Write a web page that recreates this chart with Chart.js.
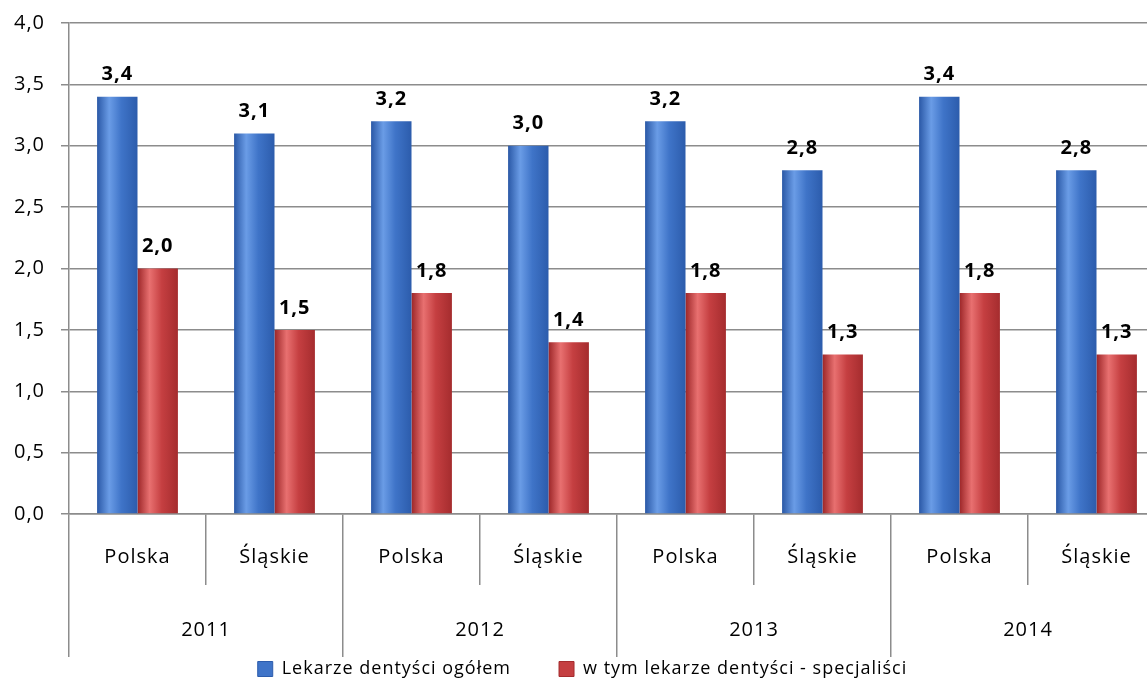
<!DOCTYPE html>
<html>
<head>
<meta charset="utf-8">
<script src="https://cdn.jsdelivr.net/npm/chart.js@4.4.1/dist/chart.umd.min.js"></script>
<style>
  html, body { margin: 0; padding: 0; background: #fff; overflow: hidden; }
  #wrap { width: 1165px; height: 689px; }
</style>
</head>
<body>
<div id="wrap"><canvas id="chart"></canvas></div>
<script>
// dane z wykresu
const regions = ['Polska', 'Śląskie', 'Polska', 'Śląskie', 'Polska', 'Śląskie', 'Polska', 'Śląskie'];
const years = ['2011', '2012', '2013', '2014'];
const dentistsTotal = [3.4, 3.1, 3.2, 3.0, 3.2, 2.8, 3.4, 2.8];
const dentistsSpecialists = [2.0, 1.5, 1.8, 1.4, 1.8, 1.3, 1.8, 1.3];
const seriesNames = ['Lekarze dentyści ogółem', 'w tym lekarze dentyści - specjaliści'];
const yMin = 0, yMax = 4, yStep = 0.5;

const FONT = "'Open Sans', 'Noto Sans', sans-serif";
const GRID = '#8c8c8c';
const fmt = v => Number(v).toFixed(1).replace('.', ',');

// rozstrzelenie liter jak w oryginale
const spacing = {
    id: 'spacing',
    beforeUpdate(chart) { chart.ctx.letterSpacing = '1px'; },
    beforeLayout(chart) { chart.ctx.letterSpacing = '1px'; },
    beforeDraw(chart) { chart.ctx.letterSpacing = '1px'; }
};

// legenda ma duży odstęp między pozycjami (padding), więc jej górną krawędź podnosimy po rozkładzie
const legendShift = {
    id: 'legendShift',
    afterLayout(chart) {
        chart.legend.top -= 36;
    }
};

// cieniowanie słupków (efekt walca)
const shades = [
    ['#2a58a6', '#6a9ce6', '#3f74c8', '#2c5cac'],
    ['#9c2628', '#e87070', '#c53f41', '#a52c2e']
];
const barShading = {
    id: 'barShading',
    beforeDatasetsDraw(chart) {
        const ctx = chart.ctx;
        chart.data.datasets.forEach((ds, di) => {
            const meta = chart.getDatasetMeta(di);
            const s = shades[di];
            meta.data.forEach(bar => {
                const x0 = bar.x - bar.width / 2, x1 = bar.x + bar.width / 2;
                const g = ctx.createLinearGradient(x0, 0, x1, 0);
                g.addColorStop(0, s[0]);
                g.addColorStop(0.3, s[1]);
                g.addColorStop(0.6, s[2]);
                g.addColorStop(1, s[3]);
                bar.options.backgroundColor = g;
            });
        });
    }
};

// etykiety wartości nad słupkami
const valueLabels = {
    id: 'valueLabels',
    afterDatasetsDraw(chart) {
        const ctx = chart.ctx;
        ctx.save();
        ctx.font = "bold 20px " + FONT;
        ctx.fillStyle = '#000';
        ctx.textAlign = 'center';
        ctx.textBaseline = 'bottom';
        chart.data.datasets.forEach((ds, di) => {
            const meta = chart.getDatasetMeta(di);
            meta.data.forEach((bar, i) => {
                ctx.fillText(fmt(ds.data[i]), bar.x, bar.y - 12);
            });
        });
        ctx.restore();
    }
};

new Chart(document.getElementById('chart'), {
    type: 'bar',
    data: {
        labels: regions,
        datasets: [
            {
                label: seriesNames[0],
                data: dentistsTotal,
                // funkcja, żeby każdy słupek miał własne opcje
                backgroundColor: () => '#3f74c8',
                borderWidth: 0
            },
            {
                label: seriesNames[1],
                data: dentistsSpecialists,
                backgroundColor: () => '#c53f41',
                borderWidth: 0
            }
        ]
    },
    plugins: [spacing, legendShift, barShading, valueLabels],
    options: {
        responsive: true,
        maintainAspectRatio: false,
        animation: false,
        datasets: {
            bar: {
                categoryPercentage: 0.59,
                barPercentage: 1
            }
        },
        layout: {
            padding: { top: 23, left: 0, right: 0, bottom: 0 }
        },
        plugins: {
            legend: {
                position: 'bottom',
                maxHeight: 41,
                labels: {
                    boxWidth: 15,
                    boxHeight: 15,
                    padding: 48,
                    color: '#000',
                    font: { family: FONT, size: 18 },
                    generateLabels: chart => chart.data.datasets.map((ds, i) => ({
                        text: ds.label,
                        fillStyle: shades[i][2],
                        strokeStyle: shades[i][3],
                        lineWidth: 1,
                        hidden: false,
                        datasetIndex: i
                    }))
                }
            },
            tooltip: { enabled: false }
        },
        scales: {
            y: {
                min: yMin,
                max: yMax,
                afterFit: scale => {
                    scale.width = 69;
                    scale.paddingTop = 0;
                    scale.paddingBottom = 0;
                },
                ticks: {
                    stepSize: yStep,
                    padding: 16,
                    color: '#000',
                    font: { family: FONT, size: 20 },
                    callback: v => fmt(v)
                },
                grid: {
                    color: GRID,
                    lineWidth: 1.5,
                    tickLength: 8
                },
                border: { color: GRID, width: 1.5 }
            },
            x: {
                afterFit: scale => { scale.height = 71; },
                ticks: {
                    autoSkip: false,
                    maxRotation: 0,
                    padding: -40,
                    color: '#000',
                    font: { family: FONT, size: 20 }
                },
                grid: {
                    drawOnChartArea: false,
                    color: GRID,
                    lineWidth: 1.5,
                    tickLength: 71
                },
                border: { color: GRID, width: 1.5 }
            },
            years: {
                type: 'category',
                position: 'bottom',
                labels: years,
                offset: true,
                afterFit: scale => { scale.height = 63; },
                ticks: {
                    autoSkip: false,
                    maxRotation: 0,
                    padding: -39,
                    color: '#000',
                    font: { family: FONT, size: 20 }
                },
                grid: {
                    offset: true,
                    drawOnChartArea: false,
                    color: GRID,
                    lineWidth: 1.5,
                    tickLength: 72
                },
                border: { display: false }
            }
        }
    }
});
</script>
</body>
</html>
